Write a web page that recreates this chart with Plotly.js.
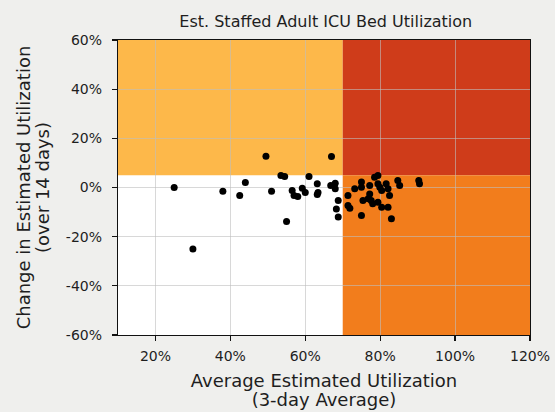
<!DOCTYPE html>
<html>
<head>
<meta charset="utf-8">
<script src="https://cdn.plot.ly/plotly-3.0.1.min.js"></script>
<style>html,body{margin:0;padding:0;background:#efefed;}#chart{width:555px;height:412px;}</style>
</head>
<body>
<div id="chart"></div>
<script>
// Average estimated utilization (3-day average), %
const avgUtil = [25, 30, 38, 42.5, 44, 49.5, 51, 53.5, 54.5, 55, 56.5, 57, 58, 59.2, 60, 61, 63.2, 63.4, 63.2, 67, 66.8, 68, 68, 68.8, 68.3, 68.8,
  71.4, 71.4, 71.9, 73.2, 75, 75, 75.4, 76.8, 77.6, 77.2, 77.2, 78.5, 79.4, 79.4, 79.9, 80.4, 81.6, 82.1, 82.5, 80.4, 82.1, 83, 75, 78, 79.4, 84.7, 85.2, 90.3, 90.5];
// Change in estimated utilization over 14 days, %
const change14d = [0, -25, -1.5, -3.3, 2, 12.7, -1.5, 4.9, 4.5, -13.8, -1.2, -3.3, -3.7, -0.3, -2, 4.5, 1.5, -2, -2.8, 12.6, 0.8, 1.7, -0.5, -5.3, -8.7, -12,
  -3.3, -7.3, -8.4, -0.5, 2.2, 0.1, -5.3, -4.6, -5.3, -2.6, 0.8, 4.2, 4.9, 1.5, 0.1, -1.2, 1.5, -0.5, -3.3, -8, -8, -12.7, -11.4, -6.6, -6, 2.8, 0.8, 2.8, 1.5];
const xTicks = [20, 40, 60, 80, 100, 120];
const xTickText = ['20%', '40%', '60%', '80%', '100%', '120%'];
const yTicks = [-60, -40, -20, 0, 20, 40, 60];
const yTickText = ['-60%', '-40%', '-20%', '0%', '20%', '40%', '60%'];
const xRange = [10, 120];
const yRange = [-60, 60];
const utilThreshold = 70;
const changeThreshold = 5;

const trace = {
  x: avgUtil, y: change14d, type: 'scatter', mode: 'markers',
  marker: {color: '#000000', size: 7}, hoverinfo: 'x+y'
};
const fnt = {family: 'DejaVu Sans, sans-serif', color: '#1e1e1e'};
const shapes = [
  {type: 'rect', xref: 'x', yref: 'y', x0: xRange[0], x1: utilThreshold, y0: changeThreshold, y1: yRange[1], fillcolor: '#FDB84A', line: {width: 0}, layer: 'below'},
  {type: 'rect', xref: 'x', yref: 'y', x0: utilThreshold, x1: xRange[1], y0: changeThreshold, y1: yRange[1], fillcolor: '#CF3C1A', line: {width: 0}, layer: 'below'},
  {type: 'rect', xref: 'x', yref: 'y', x0: utilThreshold, x1: xRange[1], y0: yRange[0], y1: changeThreshold, fillcolor: '#F27D1C', line: {width: 0}, layer: 'below'}
];
const axisCommon = {
  showline: true, linecolor: '#111111', linewidth: 1.2, mirror: true,
  ticks: 'outside', ticklen: 5, tickcolor: '#111111', tickwidth: 1.2,
  showgrid: true, gridcolor: 'rgba(190,190,190,0.6)', gridwidth: 1,
  zeroline: false, tickfont: {family: fnt.family, color: fnt.color, size: 14}
};
const big = s => '<span style="font-size:18px">' + s + '</span>';
const layout = {
  width: 555, height: 412,
  paper_bgcolor: '#efefed', plot_bgcolor: '#ffffff',
  margin: {l: 118, r: 25, t: 40, b: 77},
  showlegend: false,
  title: {text: 'Est. Staffed Adult ICU Bed Utilization', font: {family: fnt.family, color: fnt.color, size: 16}, x: 0.587, xanchor: 'center', y: 0.947, yanchor: 'middle'},
  xaxis: Object.assign({}, axisCommon, {range: xRange, tickvals: xTicks, ticktext: xTickText, ticklabelstandoff: 3,
    title: {text: big('Average Estimated Utilization') + '<br>' + big('(3-day Average)'), font: {family: fnt.family, color: fnt.color, size: 15}, standoff: 13}}),
  yaxis: Object.assign({}, axisCommon, {range: yRange, tickvals: yTicks, ticktext: yTickText, ticklabelstandoff: 7,
    title: {text: big('Change in Estimated Utilization') + '<br>' + big('(over 14 days)'), font: {family: fnt.family, color: fnt.color, size: 15}, standoff: 12}}),
  shapes: shapes
};
Plotly.newPlot('chart', [trace], layout, {displayModeBar: false, staticPlot: true});
</script>
</body>
</html>
